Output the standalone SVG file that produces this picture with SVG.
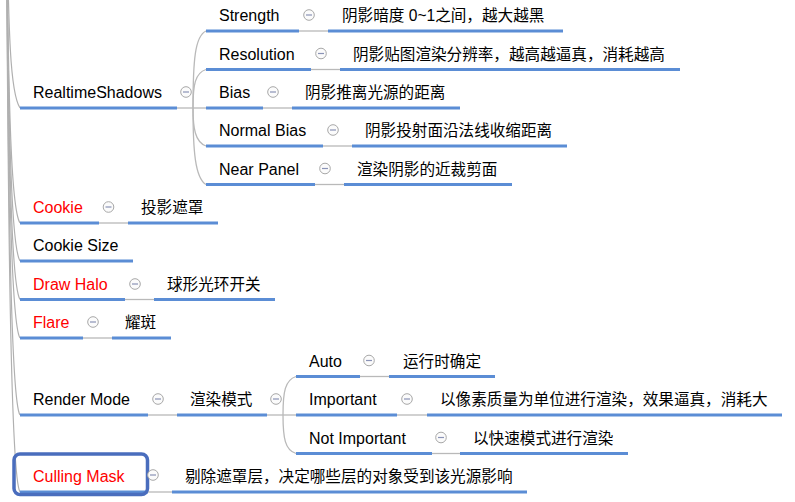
<svg xmlns="http://www.w3.org/2000/svg" width="795" height="502" viewBox="0 0 795 502">
<style>
text{font-family:"Liberation Sans","Noto Sans CJK SC",sans-serif;font-size:16px;fill:#000}
.d{font-size:15.6px}
.r{fill:#ff0000}
.u{stroke:#5b8dd5;stroke-width:3;fill:none}
.c{stroke:#b9b9b9;stroke-width:1.3;fill:none}
.t{stroke:#b0b0b0;stroke-width:1.2;fill:none}
.k circle{fill:#fbfbfb;stroke:#a8a8a8;stroke-width:1}
.k line{stroke:#8a93b6;stroke-width:1.2}
</style>
<defs>
<g id="minus" class="k"><circle r="5.3"/><line x1="-3" y1="0" x2="3" y2="0"/></g>
</defs>
<rect width="795" height="502" fill="#ffffff"/>
<g id="connectors">
<path class="t" d="M6,-150 C8,54 11,94 20,108"/>
<path class="t" d="M6,-150 C8,111 11,209 20,223"/>
<path class="t" d="M6,-150 C8,130 11,247 20,261"/>
<path class="t" d="M6,-150 C8,150 11,285 20,299.5"/>
<path class="t" d="M6,-150 C8,169 11,324 20,338"/>
<path class="t" d="M6,-150 C8,207 11,401 20,415"/>
<path class="t" d="M6,-150 C8,246 11,478 20,492"/>
<path class="c" d="M177,108 H206"/>
<path class="c" d="M193,108 C193,60 195,36 206,31"/>
<path class="c" d="M193,108 C193,85 195,73 206,69.5"/>
<path class="c" d="M193,108 C193,128 195,142 206,146"/>
<path class="c" d="M193,108 C193,150 195,178 206,184.5"/>
<path class="c" d="M299,31 H328"/>
<path class="c" d="M311,69.5 H340"/>
<path class="c" d="M263,108 H292"/>
<path class="c" d="M323,146 H352"/>
<path class="c" d="M315,184.5 H344"/>
<path class="c" d="M99,223 H128"/>
<path class="c" d="M125,299.5 H154"/>
<path class="c" d="M83,338 H112"/>
<path class="c" d="M148,415 H177"/>
<path class="c" d="M267,415 H296"/>
<path class="c" d="M283,415 C283,392 285,380 296,376.5"/>
<path class="c" d="M283,415 C283,438 285,450 296,453.5"/>
<path class="c" d="M360,376.5 H389"/>
<path class="c" d="M397,415 H427"/>
<path class="c" d="M432,453.5 H460"/>
<path class="c" d="M148,492 H172"/>
</g>
<g id="node-realtimeshadows">
<path class="u" d="M20,108 H177"/>
<text x="33" y="98">RealtimeShadows</text>
<use href="#minus" x="186" y="92"/>
</g>
<g id="node-strength">
<path class="u" d="M206,31 H299"/>
<text x="219" y="21">Strength</text>
<use href="#minus" x="309" y="15"/>
</g>
<g id="node-strength-desc">
<path class="u" d="M328,31 H563"/>
<text class="d" x="342" y="21">阴影暗度 0~1之间，越大越黑</text>
</g>
<g id="node-resolution">
<path class="u" d="M206,69.5 H311"/>
<text x="219" y="59.5">Resolution</text>
<use href="#minus" x="321" y="53.5"/>
</g>
<g id="node-resolution-desc">
<path class="u" d="M340,69.5 H680"/>
<text class="d" x="353" y="59.5">阴影贴图渲染分辨率，越高越逼真，消耗越高</text>
</g>
<g id="node-bias">
<path class="u" d="M206,108 H263"/>
<text x="219" y="98">Bias</text>
<use href="#minus" x="273" y="92"/>
</g>
<g id="node-bias-desc">
<path class="u" d="M292,108 H460"/>
<text class="d" x="305" y="98">阴影推离光源的距离</text>
</g>
<g id="node-normalbias">
<path class="u" d="M206,146 H323"/>
<text x="219" y="136">Normal Bias</text>
<use href="#minus" x="333" y="130"/>
</g>
<g id="node-normalbias-desc">
<path class="u" d="M352,146 H567"/>
<text class="d" x="365" y="136">阴影投射面沿法线收缩距离</text>
</g>
<g id="node-nearpanel">
<path class="u" d="M206,184.5 H315"/>
<text x="219" y="174.5">Near Panel</text>
<use href="#minus" x="325" y="168.5"/>
</g>
<g id="node-nearpanel-desc">
<path class="u" d="M344,184.5 H512"/>
<text class="d" x="357" y="174.5">渲染阴影的近裁剪面</text>
</g>
<g id="node-cookie">
<path class="u" d="M20,223 H99"/>
<text class="r" x="33" y="213">Cookie</text>
<use href="#minus" x="108.5" y="207"/>
</g>
<g id="node-cookie-desc">
<path class="u" d="M128,223 H218"/>
<text class="d" x="141" y="213">投影遮罩</text>
</g>
<g id="node-cookiesize">
<path class="u" d="M20,261 H133"/>
<text x="33" y="251">Cookie Size</text>
</g>
<g id="node-drawhalo">
<path class="u" d="M20,299.5 H125"/>
<text class="r" x="33" y="289.5">Draw Halo</text>
<use href="#minus" x="135" y="284"/>
</g>
<g id="node-drawhalo-desc">
<path class="u" d="M154,299.5 H275"/>
<text class="d" x="167" y="289.5">球形光环开关</text>
</g>
<g id="node-flare">
<path class="u" d="M20,338 H83"/>
<text class="r" x="33" y="328">Flare</text>
<use href="#minus" x="93" y="322"/>
</g>
<g id="node-flare-desc">
<path class="u" d="M112,338 H171"/>
<text class="d" x="125" y="328">耀斑</text>
</g>
<g id="node-rendermode">
<path class="u" d="M20,415 H148"/>
<text x="33" y="405">Render Mode</text>
<use href="#minus" x="158" y="399"/>
</g>
<g id="node-rendermode-desc">
<path class="u" d="M177,415 H267"/>
<text class="d" x="190" y="405">渲染模式</text>
<use href="#minus" x="276" y="399"/>
</g>
<g id="node-auto">
<path class="u" d="M296,376.5 H360"/>
<text x="309" y="366.5">Auto</text>
<use href="#minus" x="369" y="360.5"/>
</g>
<g id="node-auto-desc">
<path class="u" d="M389,376.5 H495"/>
<text class="d" x="403" y="366.5">运行时确定</text>
</g>
<g id="node-important">
<path class="u" d="M296,415 H397"/>
<text x="309" y="405">Important</text>
<use href="#minus" x="407" y="399"/>
</g>
<g id="node-important-desc">
<path class="u" d="M427,415 H782"/>
<text class="d" x="440" y="405">以像素质量为单位进行渲染，效果逼真，消耗大</text>
</g>
<g id="node-notimportant">
<path class="u" d="M296,453.5 H432"/>
<text x="309" y="443.5">Not Important</text>
<use href="#minus" x="441" y="437.5"/>
</g>
<g id="node-notimportant-desc">
<path class="u" d="M460,453.5 H628"/>
<text class="d" x="473" y="443.5">以快速模式进行渲染</text>
</g>
<g id="node-cullingmask">
<path class="u" d="M20,492 H148"/>
<text class="r" x="33" y="482">Culling Mask</text>
<rect x="14" y="454" width="133.5" height="40.5" rx="6" fill="none" stroke="#4a6dbd" stroke-width="3.5"/>
<use href="#minus" x="153" y="475"/>
</g>
<g id="node-cullingmask-desc">
<path class="u" d="M172,492 H527"/>
<text class="d" x="185" y="482">剔除遮罩层，决定哪些层的对象受到该光源影响</text>
</g>
</svg>
